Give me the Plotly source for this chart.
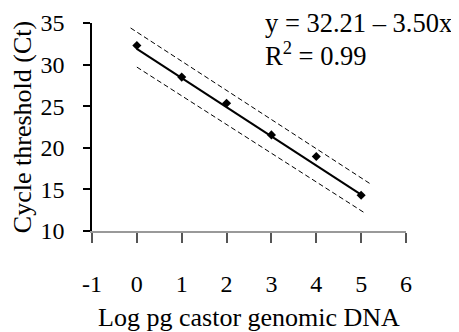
import plotly.graph_objects as go

log_dna = [0, 1, 2, 3, 4, 5]
ct_values = [32.3, 28.5, 25.35, 21.55, 18.95, 14.3]

fit_x = [0, 5.05]
fit_y = [31.9, 14.2]

upper_x = [-0.14, 5.21]
upper_y = [34.4, 15.65]
lower_x = [0.0, 5.1]
lower_y = [29.7, 12.1]

x_ticks = [-1, 0, 1, 2, 3, 4, 5, 6]
y_ticks = [10, 15, 20, 25, 30, 35]

eq_text = "y = 32.21 \u2013 3.50x"
r2_text = "R<sup>2</sup> = 0.99"

FONT = "Liberation Serif, Times New Roman, serif"

fig = go.Figure()
fig.add_trace(go.Scatter(x=upper_x, y=upper_y, mode="lines",
                         line=dict(color="black", width=1, dash="5px,3px"),
                         showlegend=False, hoverinfo="skip"))
fig.add_trace(go.Scatter(x=lower_x, y=lower_y, mode="lines",
                         line=dict(color="black", width=1, dash="5px,3px"),
                         showlegend=False, hoverinfo="skip"))
fig.add_trace(go.Scatter(x=fit_x, y=fit_y, mode="lines",
                         line=dict(color="black", width=2),
                         showlegend=False))
fig.add_trace(go.Scatter(x=log_dna, y=ct_values, mode="markers",
                         marker=dict(symbol="diamond", size=7, color="black"),
                         showlegend=False))

fig.add_annotation(x=2.82, y=35.0, xref="x", yref="y", text=eq_text,
                   showarrow=False, xanchor="left", yanchor="middle",
                   font=dict(family=FONT, size=26.5, color="black"))
fig.add_annotation(x=2.82, y=31.3, xref="x", yref="y", text=r2_text,
                   showarrow=False, xanchor="left", yanchor="middle",
                   font=dict(family=FONT, size=26.5, color="black"))

# page body has an 8px default margin, so the figure is sized to fit the window
fig.update_layout(
    width=451, height=324,
    margin=dict(l=84, r=53, t=15, b=101),
    paper_bgcolor="white", plot_bgcolor="white",
    font=dict(family=FONT, color="black"),
    xaxis=dict(range=[-1, 6], tickvals=x_ticks, ticktext=[str(v) for v in x_ticks],
               showgrid=False, zeroline=False, showline=True, linecolor="#999",
               linewidth=1.5, ticks="outside", ticklen=10, tickcolor="#555", tickwidth=1.5,
               tickfont=dict(family=FONT, size=24, color="black"),
               ticklabelstandoff=20, automargin=False,
               title=dict(text="Log pg castor genomic DNA",
                          font=dict(family=FONT, size=26, color="black"), standoff=14)),
    yaxis=dict(range=[10, 35], tickvals=y_ticks, ticktext=[str(v) for v in y_ticks],
               showgrid=False, zeroline=False, showline=True, linecolor="black",
               linewidth=1.5, ticks="outside", ticklen=7, tickcolor="black", tickwidth=1.5,
               tickfont=dict(family=FONT, size=24, color="black"),
               ticklabelstandoff=14, automargin=False,
               title=dict(text="Cycle threshold (Ct)",
                          font=dict(family=FONT, size=26, color="black"), standoff=1)),
)

fig.write_html("out.html")
